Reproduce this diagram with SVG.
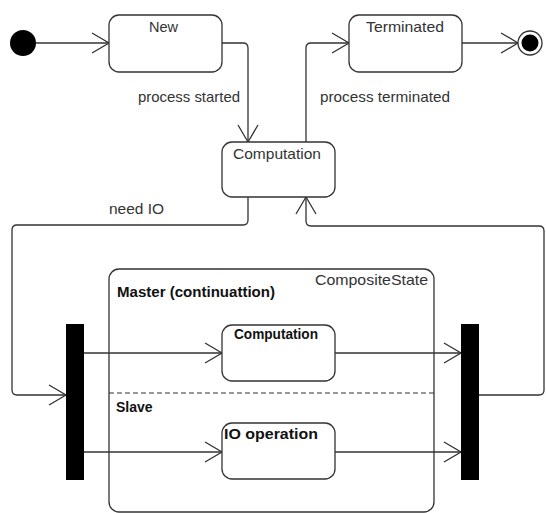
<svg xmlns="http://www.w3.org/2000/svg" width="546" height="513" viewBox="0 0 546 513">
<style>
.st{fill:#fff;stroke:#333;stroke-width:1.3}
.cn{fill:none;stroke:#333;stroke-width:1.3}
.t{font-family:"Liberation Sans",Arial,sans-serif;font-size:14.5px;fill:#333}
.b{font-family:"Liberation Sans",Arial,sans-serif;font-size:14px;font-weight:bold;fill:#111}
.bar{fill:#000}
</style>
<defs>
<marker id="ah" markerUnits="userSpaceOnUse" markerWidth="24" markerHeight="24" viewBox="-20 -12 24 24" refX="0" refY="0" orient="auto">
<path d="M-17,-10 L0,0 L-17,10" fill="none" stroke="#333" stroke-width="1.3"/>
</marker>
</defs>
<rect width="546" height="513" fill="#fff"/>
<g id="composite">
<rect class="st" x="109" y="269" width="325" height="243" rx="10"/>
<text class="t" x="315" y="285" textLength="113" lengthAdjust="spacingAndGlyphs">CompositeState</text>
<text class="b" x="117" y="297" textLength="158" lengthAdjust="spacingAndGlyphs">Master (continuattion)</text>
<line x1="109" y1="393" x2="434" y2="393" stroke="#333" stroke-width="1.2" stroke-dasharray="5,3"/>
<text class="b" x="116" y="412">Slave</text>
</g>
<g id="connectors">
<path class="cn" d="M36,43 H109" marker-end="url(#ah)"/>
<path class="cn" d="M222,43 H243 Q248,43 248,48 V142" marker-end="url(#ah)"/>
<path class="cn" d="M306,142 V48 Q306,43 311,43 H349" marker-end="url(#ah)"/>
<path class="cn" d="M462,43 H518" marker-end="url(#ah)"/>
<path class="cn" d="M248,197 V220 Q248,225 243,225 H17 Q12,225 12,230 V390 Q12,395 17,395 H66" marker-end="url(#ah)"/>
<path class="cn" d="M479,395 H539 Q544,395 544,390 V231 Q544,226 539,226 H311 Q306,226 306,221 V197" marker-end="url(#ah)"/>
<path class="cn" d="M84,353 H222" marker-end="url(#ah)"/>
<path class="cn" d="M335,353 H461" marker-end="url(#ah)"/>
<path class="cn" d="M84,452 H222" marker-end="url(#ah)"/>
<path class="cn" d="M335,452 H461" marker-end="url(#ah)"/>
<text class="t" x="138" y="102" textLength="102" lengthAdjust="spacingAndGlyphs">process started</text>
<text class="t" x="320" y="102" textLength="130" lengthAdjust="spacingAndGlyphs">process terminated</text>
<text class="t" x="109" y="214" textLength="55" lengthAdjust="spacingAndGlyphs">need IO</text>
</g>
<g id="initial">
<circle cx="23" cy="43" r="13" fill="#000"/>
</g>
<g id="new">
<rect class="st" x="109" y="15" width="113" height="57" rx="10"/>
<text class="t" x="163.5" y="32" text-anchor="middle">New</text>
</g>
<g id="computation">
<rect class="st" x="222" y="142" width="113" height="55" rx="10"/>
<text class="t" x="233" y="159" textLength="88" lengthAdjust="spacingAndGlyphs">Computation</text>
</g>
<g id="terminated">
<rect class="st" x="349" y="15" width="113" height="57" rx="10"/>
<text class="t" x="366" y="32" textLength="78" lengthAdjust="spacingAndGlyphs">Terminated</text>
</g>
<g id="final">
<circle cx="530" cy="43" r="12" fill="#fff" stroke="#333" stroke-width="1.3"/>
<circle cx="530" cy="43" r="8.5" fill="#000"/>
</g>
<g id="fork">
<rect class="bar" x="66" y="324" width="18" height="156"/>
</g>
<g id="join">
<rect class="bar" x="461" y="324" width="18" height="156"/>
</g>
<g id="inner-computation">
<rect class="st" x="222" y="325" width="113" height="56" rx="10"/>
<text class="b" x="234" y="339" textLength="84" lengthAdjust="spacingAndGlyphs">Computation</text>
</g>
<g id="io-operation">
<rect class="st" x="222" y="423" width="113" height="56" rx="10"/>
<text class="b" x="224" y="439" textLength="94" lengthAdjust="spacingAndGlyphs">IO operation</text>
</g>
</svg>
